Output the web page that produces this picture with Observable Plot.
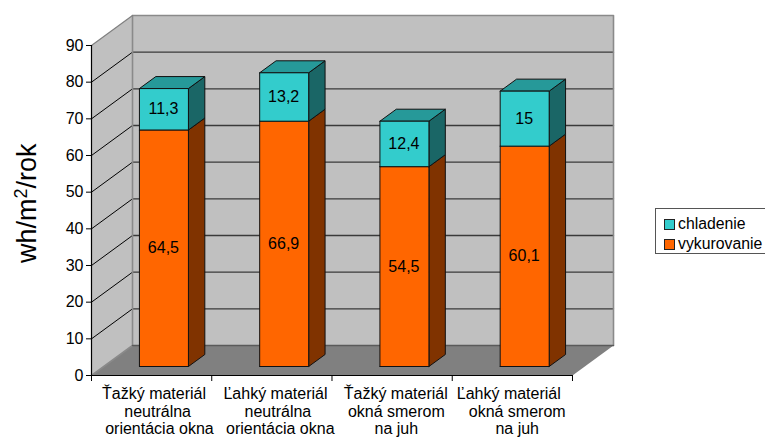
<!DOCTYPE html>
<html>
<head>
<meta charset="utf-8">
<script src="https://cdn.jsdelivr.net/npm/d3@7"></script>
<script src="https://cdn.jsdelivr.net/npm/@observablehq/plot@0.6"></script>
<style>
  html, body { margin: 0; padding: 0; background: #fff; overflow: hidden; }
  #chart { position: relative; width: 765px; height: 439px; font-family: "Liberation Sans", Arial, sans-serif; }
  #legend { position: absolute; left: 655px; top: 208px; width: 109px; height: 39px; border: 1px solid #555; background: #fff;
            font-size: 15.8px; line-height: 20px; color: #000; padding-top: 5px; box-sizing: content-box; }
  #legend div { display: flex; align-items: center; height: 20px; padding-left: 8px; white-space: nowrap; }
  #legend i { display: inline-block; width: 9px; height: 9px; border: 1px solid #222; margin-right: 3px; }
</style>
</head>
<body>
<div id="chart"></div>
<script>
const categories = [
  "Ťažký materiál\nneutrálna\norientácia okna",
  "Ľahký materiál\nneutrálna\norientácia okna",
  "Ťažký materiál\nokná smerom\nna juh",
  "Ľahký materiál\nokná smerom\nna juh"
];
const vykurovanie = [64.5, 66.9, 54.5, 60.1];
const chladenie = [11.3, 13.2, 12.4, 15];
const yTicks = [0, 10, 20, 30, 40, 50, 60, 70, 80, 90];
const seriesNames = ["chladenie", "vykurovanie"];
const seriesColors = { chladenie: "#33cccc", vykurovanie: "#ff6600" };

// Oblique projection: a point (category position, value, depth 0..1) maps to scale units.
const depthX = 0.341;
const depthY = 8.18;
const barWidth = 0.4075;
const barFront = 0.3;
const barBack = 0.7;
const project = (c, v, d) => ({ x: c + d * depthX, y: v + d * depthY });

const polys = [];
function addPoly(corners, fill) {
  const id = polys.length ? polys[polys.length - 1].id + 1 : 0;
  [...corners, corners[0]].forEach(([c, v, d]) => polys.push({ id, fill, ...project(c, v, d) }));
}

function addBlock(left, v0, v1, front, side, top) {
  const right = left + barWidth;
  addPoly([[right, v0, barFront], [right, v0, barBack], [right, v1, barBack], [right, v1, barFront]], side);
  if (top) addPoly([[left, v1, barFront], [right, v1, barFront], [right, v1, barBack], [left, v1, barBack]], top);
  addPoly([[left, v0, barFront], [right, v0, barFront], [right, v1, barFront], [left, v1, barFront]], front);
}

categories.forEach((_, i) => {
  const left = i + (1 - barWidth) / 2;
  addBlock(left, 0, vykurovanie[i], "#ff6600", "#803300", null);
  addBlock(left, vykurovanie[i], vykurovanie[i] + chladenie[i], "#33cccc", "#1a6666", "#269999");
});

// Walls and floor of the box.
const floor = [[0, 0, 0], [4, 0, 0], [4, 0, 1], [0, 0, 1], [0, 0, 0]].map(([c, v, d]) => project(c, v, d));
const sideWall = [[0, 0, 0], [0, 0, 1], [0, 90, 1], [0, 90, 0], [0, 0, 0]].map(([c, v, d]) => project(c, v, d));
const backWall = [[0, 0, 1], [4, 0, 1], [4, 90, 1], [0, 90, 1], [0, 0, 1]].map(([c, v, d]) => project(c, v, d));
const grid = yTicks.filter(t => t > 0 && t < 90);

const labels = [];
categories.forEach((_, i) => {
  const cx = i + 0.5 + barFront * depthX;
  labels.push({ x: cx, y: vykurovanie[i] / 2 + barFront * depthY, text: String(vykurovanie[i]).replace(".", ",") });
  labels.push({ x: cx, y: vykurovanie[i] + chladenie[i] / 2 + barFront * depthY, text: String(chladenie[i]).replace(".", ",") });
});

// Category captions, one text per line; the centres follow the slightly uneven wrapping of the labels.
const lineCentres = [
  [0.52, 0.55, 0.565],
  [1.53, 1.55, 1.57],
  [2.53, 2.535, 2.535],
  [3.47, 3.54, 3.54]
];
const captionLines = categories.flatMap((c, i) =>
  c.split("\n").map((text, line) => ({ text, x: lineCentres[i][line], line })));
const captionLineStep = 17.5;

const plot = Plot.plot({
  width: 765,
  height: 439,
  marginLeft: 91,
  marginRight: 152,
  marginTop: 15,
  marginBottom: 64,
  style: { fontFamily: '"Liberation Sans", Arial, sans-serif', background: "transparent", overflow: "visible" },
  x: { domain: [0, 4 + depthX], axis: null },
  y: { domain: [0, 90 + depthY], axis: null },
  color: { type: "identity" },
  marks: [
    Plot.line(sideWall, { x: "x", y: "y", fill: "#c0c0c0", stroke: "none" }),
    Plot.line(backWall, { x: "x", y: "y", fill: "#c0c0c0", stroke: "none" }),
    Plot.line(floor, { x: "x", y: "y", fill: "#808080", stroke: "none" }),

    // gridlines on the back wall and along the side wall
    Plot.line(grid.flatMap(t => [project(0, t, 1), project(4, t, 1)].map(p => ({ ...p, t }))),
      { x: "x", y: "y", z: "t", stroke: "#3a3a3a", strokeWidth: 1.3 }),
    Plot.line(grid.flatMap(t => [project(0, t, 0), project(0, t, 1)].map(p => ({ ...p, t }))),
      { x: "x", y: "y", z: "t", stroke: "#000", strokeWidth: 1 }),

    // wall outline
    Plot.line([project(0, 0, 0), project(0, 0, 1), project(0, 90, 1), project(4, 90, 1), project(4, 0, 1)],
      { x: "x", y: "y", stroke: "#8a8a8a", strokeWidth: 1.6 }),
    Plot.line([project(0, 90, 0), project(0, 90, 1)], { x: "x", y: "y", stroke: "#808080", strokeWidth: 1.2 }),
    Plot.line([project(0, 0, 1), project(4, 0, 1)], { x: "x", y: "y", stroke: "#5a5a5a", strokeWidth: 1.3 }),

    // stacked columns
    Plot.line(polys, { x: "x", y: "y", z: "id", fill: "fill", stroke: "#111", strokeWidth: 1, strokeLinejoin: "miter" }),

    Plot.text(labels, { x: "x", y: "y", dx: -0.5, text: "text", fontSize: 16, fill: "#000" }),

    // axes on the front plane
    Plot.ruleX([0], { y1: 0, y2: 90, stroke: "#000", strokeWidth: 1.2 }),
    Plot.ruleY([0], { x1: 0, x2: 4, stroke: "#000", strokeWidth: 1.2 }),
    Plot.axisY({ ticks: yTicks, tickSize: 5, tickPadding: 3, fontSize: 16, label: null, color: "#000" }),
    Plot.axisX({ ticks: [0, 1, 2, 3, 4], tickSize: 6, tickFormat: () => "", label: null, color: "#000" }),
    ...[0, 1, 2].map(line =>
      Plot.text(captionLines.filter(d => d.line === line), { x: "x", y: () => 0, dy: 12.5 + line * captionLineStep, text: "text", lineAnchor: "top", fontSize: 16, fill: "#000" })),

    Plot.text(["wh/m²/rok"], { x: 0, y: 47, dx: -64.6, rotate: -90, fontSize: 27, fill: "#000" })
  ]
});

// Typeset the unit with a true raised exponent.
d3.select(plot).selectAll("text").filter(function () { return this.textContent === "wh/m²/rok"; }).each(function () {
  const t = d3.select(this).text("wh/m");
  t.append("tspan").attr("dy", "-0.5em").attr("font-size", 18).text("2");
  t.append("tspan").attr("dy", "0.333em").text("/rok");
});

const chart = document.getElementById("chart");
chart.appendChild(plot);

const legend = document.createElement("div");
legend.id = "legend";
seriesNames.forEach(name => {
  const row = document.createElement("div");
  const swatch = document.createElement("i");
  swatch.style.background = seriesColors[name];
  row.appendChild(swatch);
  row.appendChild(document.createTextNode(name));
  legend.appendChild(row);
});
chart.appendChild(legend);
</script>
</body>
</html>
